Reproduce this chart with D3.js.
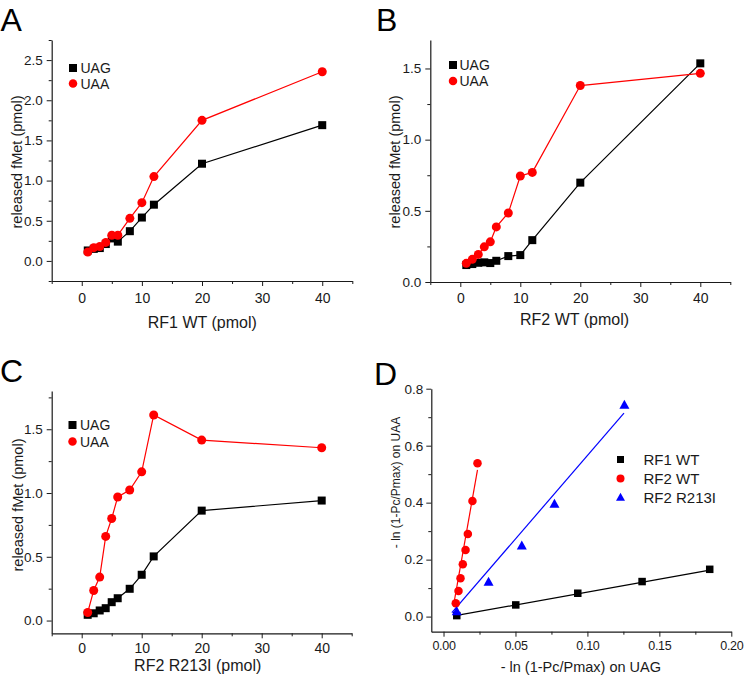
<!DOCTYPE html>
<html><head><meta charset="utf-8">
<script src="https://cdn.jsdelivr.net/npm/d3@7"></script>
<style>body{margin:0;background:#fff}</style>
</head><body><svg id="c" width="745" height="678"></svg>
<script>
// ---------- data ----------
const conc = [1, 2, 3, 4, 5, 6, 8, 10, 12, 20, 40];
const rf1UAG = [0.13, 0.15, 0.16, 0.21, 0.28, 0.24, 0.37, 0.54, 0.70, 1.21, 1.69];
const rf1UAA = [0.11, 0.165, 0.18, 0.23, 0.32, 0.32, 0.53, 0.725, 1.05, 1.75, 2.355];
const rf2UAG = [0.119, 0.126, 0.135, 0.138, 0.133, 0.149, 0.182, 0.189, 0.294, 0.698, 1.536];
const rf2UAA = [0.131, 0.159, 0.194, 0.247, 0.282, 0.387, 0.485, 0.745, 0.770, 1.38, 1.466];
const mutUAG = [0.045, 0.057, 0.079, 0.097, 0.144, 0.175, 0.249, 0.359, 0.503, 0.862, 0.941];
const mutUAA = [0.063, 0.236, 0.341, 0.660, 0.80, 0.969, 1.024, 1.166, 1.612, 1.415, 1.355];

const dRF1x = [0.0092, 0.0502, 0.0933, 0.138, 0.185];
const dRF1y = [0.0035, 0.041, 0.082, 0.123, 0.166];
const dRF2x = [0.0085, 0.0104, 0.0118, 0.0134, 0.0153, 0.0169, 0.0201, 0.0236];
const dRF2y = [0.047, 0.090, 0.135, 0.184, 0.234, 0.290, 0.406, 0.538];
const dMutx = [0.0092, 0.0313, 0.0544, 0.0771, 0.1257];
const dMuty = [0.0175, 0.121, 0.248, 0.395, 0.742];
// linear fits (endpoints in data units)
const fitRF1 = [[0.0092, 0.004], [0.185, 0.163]];
const fitRF2 = [[0.0069, 0.0375], [0.0236, 0.515]];
const fitMut = [[0.0058, 0.014], [0.1254, 0.714]];

const codonLabels = ["UAG", "UAA"];
const factorLabels = ["RF1 WT", "RF2 WT", "RF2 R213I"];
const panelLetters = ["A", "B", "C", "D"];
const xTicksConc = [0, 10, 20, 30, 40];
const xMinorConc = [-5, 5, 15, 25, 35, 45];
const yTicksA = [0, 0.5, 1.0, 1.5, 2.0, 2.5];
const yMinorA = [-0.25, 0.25, 0.75, 1.25, 1.75, 2.25, 2.75];
const yTicksBC = [0, 0.5, 1.0, 1.5];
const yMinorBC = [0.25, 0.75, 1.25, 1.75];
const xTicksD = [0, 0.05, 0.10, 0.15, 0.20];
const xMinorD = [0.025, 0.075, 0.125, 0.175];
const yTicksD = [0, 0.2, 0.4, 0.6, 0.8];
const yMinorD = [0.1, 0.3, 0.5, 0.7];

// ---------- drawing ----------
const FONT = 'Arial, "Liberation Sans", sans-serif';
const svg = d3.select("#c");
const INK = "#1a1a1a";
const RED = "#ff0000", BLUE = "#0000ff", BLACK = "#000000";

function marker(g, shape, cx, cy, color, s) {
  if (shape === "square") {
    g.append("rect").attr("x", cx - s / 2).attr("y", cy - s / 2).attr("width", s).attr("height", s).attr("fill", color);
  } else if (shape === "circle") {
    g.append("circle").attr("cx", cx).attr("cy", cy).attr("r", s / 2).attr("fill", color);
  } else {
    const h = s * 0.9;
    g.append("path").attr("d", `M${cx},${cy - h * 0.6}L${cx + s / 2},${cy + h * 0.4}L${cx - s / 2},${cy + h * 0.4}Z`).attr("fill", color);
  }
}

function panel(cfg) {
  const x = d3.scaleLinear().domain(cfg.xDomain).range([cfg.left, cfg.right]);
  const y = d3.scaleLinear().domain(cfg.yDomain).range([cfg.bottom, cfg.top]);
  const g = svg.append("g");

  const style = sel => {
    sel.attr("font-family", FONT);
    sel.selectAll("path.domain").attr("stroke", INK).attr("stroke-width", 1.2);
    sel.selectAll(".tick line").attr("stroke", INK).attr("stroke-width", 1);
    sel.selectAll(".tick text").attr("fill", INK);
  };
  // minor ticks
  g.append("g").attr("transform", `translate(0,${cfg.bottom})`)
    .call(d3.axisBottom(x).tickValues(cfg.xMinor).tickSize(3).tickFormat(""))
    .call(s => s.select(".domain").remove()).call(style);
  g.append("g").attr("transform", `translate(${cfg.left},0)`)
    .call(d3.axisLeft(y).tickValues(cfg.yMinor).tickSize(3).tickFormat(""))
    .call(s => s.select(".domain").remove()).call(style);
  // major axes
  g.append("g").attr("transform", `translate(0,${cfg.bottom})`)
    .call(d3.axisBottom(x).tickValues(cfg.xTicks).tickSize(5).tickSizeOuter(0).tickPadding(cfg.xPad).tickFormat(cfg.xFmt))
    .attr("font-size", cfg.xTickFont).call(style)
    .call(s => s.selectAll(".tick text").attr("letter-spacing", cfg.xLS || 0));
  g.append("g").attr("transform", `translate(${cfg.left},0)`)
    .call(d3.axisLeft(y).tickValues(cfg.yTicks).tickSize(5).tickSizeOuter(0).tickPadding(cfg.yPad).tickFormat(cfg.yFmt))
    .attr("font-size", cfg.yTickFont).call(style);

  // titles
  g.append("text").attr("x", cfg.xTitlePos[0]).attr("y", cfg.xTitlePos[1]).attr("text-anchor", "middle")
    .attr("font-family", FONT).attr("font-size", cfg.xTitleFont).attr("fill", INK).text(cfg.xTitle);
  g.append("text").attr("transform", `translate(${cfg.yTitlePos[0]},${cfg.yTitlePos[1]}) rotate(-90)`).attr("text-anchor", "middle")
    .attr("font-family", FONT).attr("font-size", cfg.yTitleFont).attr("fill", INK).text(cfg.yTitle);
  g.append("text").attr("x", cfg.letterPos[0]).attr("y", cfg.letterPos[1])
    .attr("font-family", FONT).attr("font-size", 32).attr("fill", "#000").text(cfg.letter);

  // series
  const line = d3.line().x(d => x(d[0])).y(d => y(d[1]));
  cfg.series.forEach(s => {
    const pts = s.xs.map((v, i) => [v, s.ys[i]]);
    const path = s.fit ? s.fit : pts;
    g.append("path").attr("d", line(path)).attr("fill", "none").attr("stroke", s.color).attr("stroke-width", 1.2);
  });
  cfg.series.forEach(s => {
    s.xs.forEach((v, i) => marker(g, s.shape, x(v), y(s.ys[i]), s.color, s.size));
  });

  // legend
  cfg.series.forEach((s, i) => {
    const ly = cfg.legend.y + i * cfg.legend.dy;
    marker(g, s.shape, cfg.legend.x, ly, s.color, s.legendSize);
    g.append("text").attr("x", cfg.legend.tx).attr("y", ly + cfg.legend.font * 0.36)
      .attr("font-family", FONT).attr("font-size", cfg.legend.font).attr("fill", INK).text(s.label);
  });
}

const f1 = d3.format(".1f"), f0 = d3.format("d"), f2 = d3.format(".2f");
const concBase = {
  xDomain: [-5, 45], xTicks: xTicksConc, xMinor: xMinorConc, xFmt: f0, yFmt: f1,
  xTickFont: 14, yTickFont: 13.5, xTitleFont: 16, yTitleFont: 14.5, yPad: 4
};

panel(Object.assign({}, concBase, {
  left: 51.7, right: 352.3, top: 40, bottom: 281, yDomain: [-0.25, 2.75], xPad: 7,
  yTicks: yTicksA, yMinor: yMinorA, letter: panelLetters[0], letterPos: [0.5, 30.5],
  xTitle: "RF1 WT (pmol)", xTitlePos: [202.3, 328], yTitle: "released fMet (pmol)", yTitlePos: [21.5, 162],
  legend: { x: 73, y: 68, dy: 15.5, tx: 80.5, font: 14 },
  series: [
    { xs: conc, ys: rf1UAG, color: BLACK, shape: "square", size: 8, legendSize: 8, label: codonLabels[0] },
    { xs: conc, ys: rf1UAA, color: RED, shape: "circle", size: 9, legendSize: 8.5, label: codonLabels[1] }
  ]
}));

panel(Object.assign({}, concBase, {
  left: 430.3, right: 730.3, top: 40, bottom: 282, yDomain: [0, 1.7], xPad: 6,
  yTicks: yTicksBC, yMinor: [0.25, 0.75, 1.25], letter: panelLetters[1], letterPos: [376, 30.5],
  xTitle: "RF2 WT (pmol)", xTitlePos: [574.5, 325], yTitle: "released fMet (pmol)", yTitlePos: [400, 162],
  legend: { x: 453, y: 65, dy: 16, tx: 459.5, font: 14 },
  series: [
    { xs: conc, ys: rf2UAG, color: BLACK, shape: "square", size: 8, legendSize: 8, label: codonLabels[0] },
    { xs: conc, ys: rf2UAA, color: RED, shape: "circle", size: 9, legendSize: 8.5, label: codonLabels[1] }
  ]
}));

panel(Object.assign({}, concBase, {
  left: 51.7, right: 351.7, top: 391, bottom: 633.3, yDomain: [-0.1, 1.8], xPad: 5,
  yTicks: yTicksBC, yMinor: yMinorBC, letter: panelLetters[2], letterPos: [0, 382],
  xTitle: "RF2 R213I (pmol)", xTitlePos: [197.7, 670.5], yTitle: "released fMet (pmol)", yTitlePos: [23, 505],
  legend: { x: 72.5, y: 425, dy: 16.5, tx: 80, font: 14 },
  series: [
    { xs: conc, ys: mutUAG, color: BLACK, shape: "square", size: 8, legendSize: 8, label: codonLabels[0] },
    { xs: conc, ys: mutUAA, color: RED, shape: "circle", size: 9, legendSize: 8.5, label: codonLabels[1] }
  ]
}));

panel({
  left: 431.3, right: 731.3, top: 388.7, bottom: 631.7,
  xDomain: [-0.0085, 0.2], yDomain: [-0.053, 0.8],
  xTicks: xTicksD, xMinor: xMinorD, yTicks: yTicksD, yMinor: yMinorD,
  xFmt: f2, yFmt: f1, xTickFont: 12.5, xLS: -0.3, yTickFont: 13.5, xPad: 4, yPad: 3,
  xTitleFont: 14.5, yTitleFont: 12, letter: panelLetters[3], letterPos: [374, 385],
  xTitle: "- ln (1-Pc/Pmax) on UAG", xTitlePos: [580.8, 671.5],
  yTitle: "- ln (1-Pc/Pmax) on UAA", yTitlePos: [399.5, 482.5],
  legend: { x: 620.5, y: 459.5, dy: 19, tx: 643.5, font: 15 },
  series: [
    { xs: dRF1x, ys: dRF1y, fit: fitRF1, color: BLACK, shape: "square", size: 7.5, legendSize: 7, label: factorLabels[0] },
    { xs: dRF2x, ys: dRF2y, fit: fitRF2, color: RED, shape: "circle", size: 8.5, legendSize: 8, label: factorLabels[1] },
    { xs: dMutx, ys: dMuty, fit: fitMut, color: BLUE, shape: "triangle", size: 10, legendSize: 9, label: factorLabels[2] }
  ]
});
</script></body></html>
